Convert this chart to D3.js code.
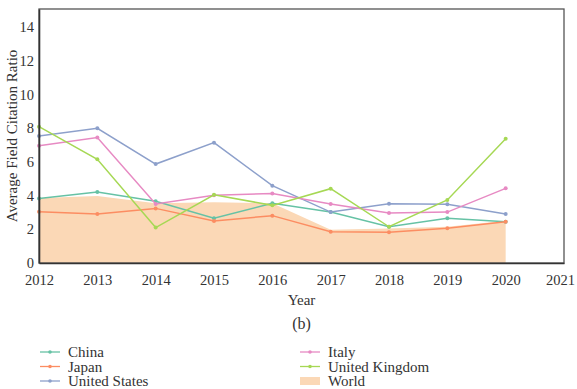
<!DOCTYPE html>
<html><head><meta charset="utf-8">
<script src="https://cdn.jsdelivr.net/npm/d3@7"></script>
<style>body{margin:0;background:#fff}svg{display:block}</style>
</head><body>
<script>
const years = [2012,2013,2014,2015,2016,2017,2018,2019,2020];
const xTicks = [2012,2013,2014,2015,2016,2017,2018,2019,2020,2021];
const yTicks = [0,2,4,6,8,10,12,14];
const china = [3.83,4.21,3.66,2.65,3.54,3.02,2.15,2.65,2.45];
const japan = [3.04,2.9,3.24,2.49,2.81,1.86,1.82,2.06,2.45];
const unitedStates = [7.53,7.99,5.87,7.14,4.59,3.02,3.52,3.48,2.91];
const italy = [6.96,7.45,3.5,4.02,4.13,3.5,2.97,3.02,4.43];
const unitedKingdom = [8.09,6.15,2.1,4.05,3.42,4.41,2.15,3.74,7.37];
const world = [3.85,3.97,3.55,3.6,3.55,1.97,2.05,2.15,2.5];

const series = [
  {name:"China", values:china, color:"#66c2a5"},
  {name:"Japan", values:japan, color:"#fc8d62"},
  {name:"United States", values:unitedStates, color:"#8da0cb"},
  {name:"Italy", values:italy, color:"#e78ac3"},
  {name:"United Kingdom", values:unitedKingdom, color:"#a6d854"}
];
const areaColor = "#fbd8b6";
const FONT = "'Liberation Serif', 'Times New Roman', 'DejaVu Serif', serif";

const W=577,H=389;
const m={l:39,r:13,t:9,b:126};
const svg=d3.select("body").append("svg").attr("width",W).attr("height",H);
const x=d3.scaleLinear().domain([2012,2021]).range([m.l,W-m.r]);
const y=d3.scaleLinear().domain([0,15.07]).range([H-m.b,m.t]);

svg.append("path").datum(years.map((yr,i)=>[yr,world[i]]))
  .attr("fill",areaColor)
  .attr("d",d3.area().x(d=>x(d[0])).y0(y(0)).y1(d=>y(d[1])));

series.forEach(s=>{
  const pts=years.map((yr,i)=>[yr,s.values[i]]);
  svg.append("path").datum(pts).attr("fill","none").attr("stroke",s.color).attr("stroke-width",1.5)
    .attr("d",d3.line().x(d=>x(d[0])).y(d=>y(d[1])));
  svg.selectAll(null).data(pts).enter().append("circle")
    .attr("cx",d=>x(d[0])).attr("cy",d=>y(d[1])).attr("r",2).attr("fill",s.color);
});

svg.append("rect").attr("x",m.l).attr("y",m.t).attr("width",W-m.r-m.l).attr("height",H-m.b-m.t)
  .attr("fill","none").attr("stroke","#555").attr("stroke-width",1.3);

const xAxis=svg.append("g").attr("transform",`translate(0,${H-m.b})`)
  .call(d3.axisBottom(x).tickValues(xTicks).tickFormat(d3.format("d")).tickSize(0).tickPadding(12));
const yAxis=svg.append("g").attr("transform",`translate(${m.l},0)`)
  .call(d3.axisLeft(y).tickValues(yTicks).tickSize(0).tickPadding(5));
[xAxis,yAxis].forEach(a=>{a.attr("font-family",FONT).attr("font-size",14.5);
  a.select(".domain").attr("stroke","#333").attr("stroke-width",1.6);
  a.selectAll("text").attr("fill","#333");});
xAxis.selectAll(".tick text").filter(d=>d===2021).attr("dx",-4);

function txt(xx,yy,s,size,anchor){return svg.append("text").attr("x",xx).attr("y",yy).attr("font-family",FONT)
  .attr("font-size",size).attr("fill","#333").attr("text-anchor",anchor||"start").text(s);}
svg.append("text").attr("transform",`translate(17,${(m.t+H-m.b)/2}) rotate(-90)`).attr("font-family",FONT)
  .attr("font-size",15).attr("fill","#333").attr("text-anchor","middle").text("Average Field Citation Ratio");
txt((m.l+W-m.r)/2,305,"Year",15,"middle");
txt((m.l+W-m.r)/2,329,"(b)",16,"middle");

const legend=[...series.slice(0,3).map((s,i)=>({...s,col:0,row:i})), ...series.slice(3).map((s,i)=>({...s,col:1,row:i})),
  {name:"World", area:true, color:areaColor, col:1,row:2}];
legend.forEach(d=>{
  const lx=d.col===0?40:300, ly=352+d.row*14.5;
  if(d.area){svg.append("rect").attr("x",lx).attr("y",ly-4).attr("width",20).attr("height",8).attr("fill",d.color);}
  else{svg.append("line").attr("x1",lx).attr("x2",lx+20).attr("y1",ly).attr("y2",ly).attr("stroke",d.color).attr("stroke-width",1.3);
    svg.append("circle").attr("cx",lx+10).attr("cy",ly).attr("r",1.8).attr("fill",d.color);}
  txt(lx+28,ly+5,d.name,15);
});
</script>
</body></html>
